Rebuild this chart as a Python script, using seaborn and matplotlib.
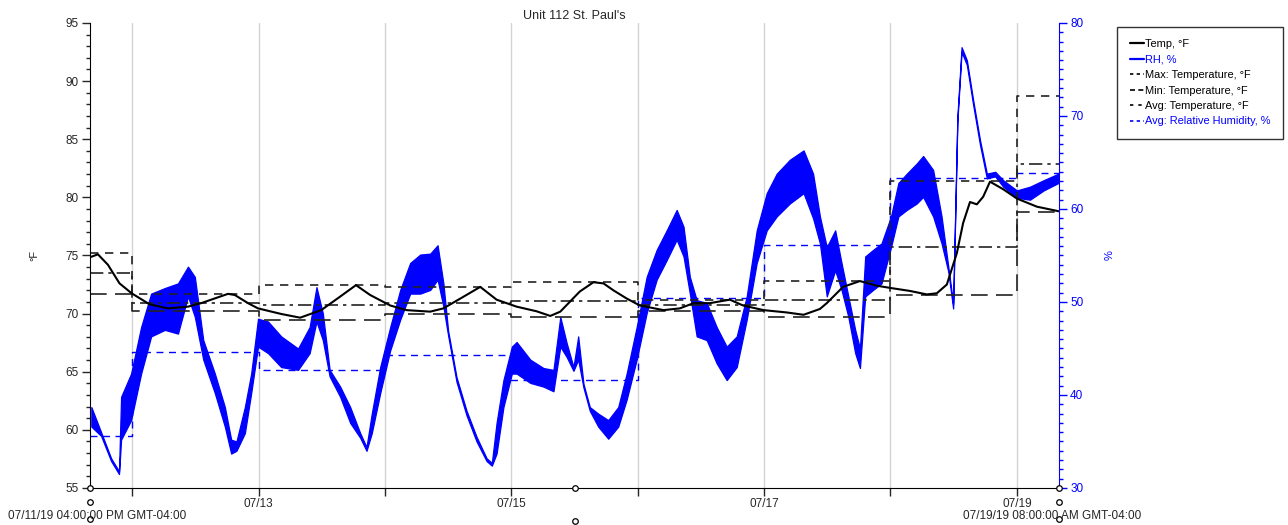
import numpy as np
import pandas as pd
import seaborn as sns
import matplotlib.pyplot as plt
import matplotlib.dates as mdates
import matplotlib.transforms as mtransforms
from matplotlib.lines import Line2D
from matplotlib.ticker import MultipleLocator, FuncFormatter

# logger start, readings as hours after start
start = pd.Timestamp("2019-07-11 16:00")

temp_hours = [0, 1.5, 3.4, 5.6, 7.9, 11.3, 14.8, 18.6, 21.1, 26.2, 27.5, 30, 31.9,
              36.3, 39.9, 43.9, 47.3, 50.5, 53.2, 57, 60.1, 64.6, 67.1, 70.9, 74.1,
              77.2, 81, 84.8, 87.4, 89.3, 93, 95.6, 97.5, 99.4, 101.9, 104.4, 108.9,
              112, 114.6, 117.7, 121.5, 124, 127.9, 132.3, 135.5, 138.6, 139.9, 143,
              146.2, 149.4, 152.1, 155.7, 158.9, 160.8, 162.7, 164.6, 165.8, 167.1,
              168.4, 169.6, 170.9, 173.4, 176, 179.8, 184]
temp_f = [74.85, 75.1, 74.2, 72.6, 71.75, 70.8, 70.45, 70.6, 70.9, 71.7, 71.6, 70.9, 70.45,
          69.97, 69.65, 70.3, 71.4, 72.45, 71.6, 70.7, 70.3, 70.17, 70.45, 71.45, 72.3,
          71.2, 70.6, 70.2, 69.8, 70.17, 71.9, 72.7, 72.6, 72.0, 71.3, 70.7, 70.3,
          70.45, 70.9, 70.9, 71.2, 70.7, 70.3, 70.1, 69.9, 70.4, 70.9, 72.3,
          72.8, 72.4, 72.2, 71.95, 71.65, 71.75, 72.5, 75.2, 77.8, 79.6,
          79.4, 80.05, 81.35, 80.7, 79.9, 79.2, 78.8]

# RH band: lower / upper envelope of the cycling trace
rh_hours = [0.25, 2.1, 4.0, 5.5, 5.9, 7.8, 9.7, 11.6, 14.2, 16.7, 18.6, 19.9, 21.5, 23.7,
            25.6, 26.8, 27.8, 29.4, 30.6, 31.9, 33.8, 36.3, 39.5, 41.7, 43.0, 44.2, 45.5,
            47.5, 49.4, 51.3, 52.5, 53.5, 55.1, 57.0, 58.9, 60.8, 62.7, 64.6, 66.0, 67.1,
            68.0, 69.6, 71.5, 73.4, 75.3, 76.3, 77.2, 78.5, 80.1, 81.0, 83.6, 86.1, 88.0,
            89.3, 90.5, 91.8, 92.7, 93.7, 94.9, 96.5, 98.4, 100.3, 101.9, 103.8, 105.7,
            107.6, 109.5, 111.4, 112.7, 113.9, 115.2, 117.1, 119.0, 120.9, 122.8, 124.7,
            126.6, 128.5, 130.4, 132.9, 135.5, 137.3, 138.6, 139.9, 141.5, 142.7, 144.0,
            145.3, 146.2, 147.2, 148.7, 150.3, 152.1, 153.5, 155.1, 157.0, 158.2, 160.1,
            161.7, 163.0, 163.9, 164.7, 165.5, 166.5, 167.7, 169.0, 170.3, 171.9, 173.4,
            176.0, 178.5, 181.1, 183.9]
rh_lo = [36.6, 35.6, 32.9, 31.5, 35.2, 37.3, 42.3, 46.3, 47.0, 46.6, 50.6, 48.4, 43.8, 40.2,
         36.6, 33.7, 34.0, 35.9, 40.2, 45.2, 44.5, 43.0, 42.7, 44.5, 47.9, 45.9, 42.0,
         39.8, 37.0, 35.4, 34.0, 35.9, 40.2, 44.8, 48.1, 50.9, 50.9, 51.3, 52.4, 49.5,
         46.4, 41.4, 37.8, 35.0, 32.9, 32.4, 33.7, 38.7, 42.3, 42.3, 41.3, 40.9, 40.4,
         45.2, 44.1, 42.6, 43.8, 40.8, 38.3, 36.6, 35.3, 36.6, 39.5, 43.8, 48.8,
         52.4, 54.5, 56.7, 54.9, 50.9, 46.3, 45.9, 43.4, 41.6, 43.0, 48.1,
         54.2, 57.7, 59.2, 60.6, 61.7, 59.0, 56.3, 50.6, 53.4, 51.3, 48.4,
         44.5, 42.9, 50.6, 51.3, 52.0, 55.9, 59.2, 59.9, 60.6, 61.3, 59.2,
         56.3, 53.2, 49.3, 69.4, 76.9, 75.5, 71.2, 66.9, 63.3, 63.5, 62.4,
         61.2, 61.0, 62.0, 62.8]
rh_hi = [38.7, 36.0, 33.2, 31.8, 39.8, 42.3, 47.3, 50.9, 51.5, 52.0, 53.8, 52.7, 45.9, 42.3,
         38.7, 35.2, 35.0, 38.7, 42.3, 48.2, 47.9, 46.3, 45.0, 47.3, 51.6, 48.8, 42.7,
         40.9, 38.7, 35.9, 34.4, 38.0, 43.0, 47.3, 51.3, 54.2, 55.1, 55.2, 56.1, 52.0,
         46.9, 41.9, 38.3, 35.5, 33.2, 32.7, 37.0, 41.6, 45.2, 45.7, 43.8, 42.9, 42.7,
         48.4, 45.6, 43.0, 46.3, 41.2, 38.7, 38.0, 37.3, 38.7, 42.3, 47.3, 52.7,
         55.6, 57.7, 59.9, 58.1, 52.7, 50.2, 49.9, 47.3, 45.2, 46.3, 50.6,
         57.7, 61.7, 63.8, 65.3, 66.3, 63.8, 59.2, 55.9, 57.7, 54.2, 50.6,
         47.0, 45.0, 54.9, 55.6, 56.3, 59.2, 62.8, 63.8, 64.9, 65.7, 64.2,
         59.2, 53.7, 49.8, 69.9, 77.4, 76.0, 71.7, 67.4, 63.8, 64.0, 63.1,
         62.0, 62.4, 63.1, 63.8]

# daily statistics (first and last day are partial)
day_hours = [0, 8, 32, 56, 80, 104, 128, 152, 176, 184]
max_temp = [75.2, 71.7, 72.5, 72.3, 72.7, 71.2, 72.8, 81.4, 88.7]
min_temp = [71.7, 70.2, 69.45, 70.0, 69.7, 70.2, 69.75, 71.6, 78.7]
avg_temp = [73.5, 70.9, 70.7, 70.9, 71.1, 70.7, 71.2, 75.7, 82.9]
avg_rh = [35.6, 44.6, 42.7, 44.3, 41.6, 50.4, 56.1, 63.3, 63.9]


def to_time(hours):
    return start + pd.to_timedelta(hours, unit="h")


t_temp = to_time(temp_hours)
t_rh = to_time(rh_hours)
t_day = to_time(day_hours)

sns.set_style("white")
plt.rcParams['font.family'] = ['Liberation Sans', 'DejaVu Sans']
plt.rcParams['font.size'] = 8

fig = plt.figure(figsize=(12.88, 5.25), dpi=100)
ax = fig.add_axes([0.0699, 0.0705, 0.7523, 0.8857])
ax2 = ax.twinx()
ax.set_zorder(ax2.get_zorder() + 1)
ax.patch.set_visible(False)

blue = '#0000ff'
maxd = (0, (5, 4))
mind = (0, (10, 5))
avgd = (0, (8, 3, 2, 3))

# midnight grid lines (behind everything)
for t in t_day[1:-1]:
    ax2.axvline(t, color='#d3d3d3', lw=1, zorder=0)

# RH
ax2.fill_between(t_rh, rh_lo, rh_hi, color=blue, lw=0.9, zorder=2)
sns.lineplot(x=t_day, y=avg_rh + avg_rh[-1:], ax=ax2, color=blue, lw=1,
             linestyle=maxd, drawstyle='steps-post', zorder=3)

# temperature
sns.lineplot(x=t_day, y=max_temp + max_temp[-1:], ax=ax, color='#222222', lw=1.2,
             linestyle=maxd, drawstyle='steps-post')
sns.lineplot(x=t_day, y=min_temp + min_temp[-1:], ax=ax, color='#222222', lw=1.2,
             linestyle=mind, drawstyle='steps-post')
sns.lineplot(x=t_day, y=avg_temp + avg_temp[-1:], ax=ax, color='#222222', lw=1.2,
             linestyle=avgd, drawstyle='steps-post')
sns.lineplot(x=t_temp, y=temp_f, ax=ax, color='black', lw=1.5)

# axes
ax.set_xlim(to_time(0), to_time(184))
ax.set_ylim(55, 95)
ax2.set_ylim(30, 80)
ax.yaxis.set_major_locator(MultipleLocator(5))
ax.yaxis.set_minor_locator(MultipleLocator(1))
ax2.yaxis.set_major_locator(MultipleLocator(10))
ax2.yaxis.set_minor_locator(MultipleLocator(1))

ax.xaxis.set_major_locator(mdates.DayLocator())
ax.xaxis.set_major_formatter(FuncFormatter(
    lambda v, p: mdates.num2date(v).strftime('%m/%d') if mdates.num2date(v).day % 2 else ''))

ax.tick_params(axis='y', which='major', direction='out', length=6, width=1, left=True, labelsize=8.5, pad=2)
ax.tick_params(axis='y', which='minor', direction='out', length=3, width=1, left=True)
ax.tick_params(axis='x', which='major', direction='out', length=6, width=1, bottom=True, labelsize=8.5, pad=1)
ax2.tick_params(axis='y', which='major', direction='out', length=6, width=1, right=True,
                colors=blue, labelsize=8.5, pad=2)
ax2.tick_params(axis='y', which='minor', direction='out', length=3, width=1, right=True, colors=blue)

for a in (ax, ax2):
    a.spines['top'].set_visible(False)
ax.spines['right'].set_visible(False)
ax2.spines['left'].set_visible(False)
ax2.spines['bottom'].set_visible(False)
ax2.spines['right'].set_color(blue)
ax.spines['left'].set_color('black')
ax.spines['bottom'].set_color('black')

ax.set_xlabel('')
ax.set_ylabel('°F', fontsize=8)
ax.yaxis.set_label_coords(-0.052, 0.5)
ax2.set_ylabel('%', fontsize=8, color=blue)
ax2.yaxis.set_label_coords(1.047, 0.5)
ax.set_title("Unit 112 St. Paul's", fontsize=9, pad=3)

# start / end stamps and logger markers
fig.text(0.006, 1 - 516 / 525, '07/11/19 04:00:00 PM GMT-04:00', fontsize=8.5, va='center', ha='left')
fig.text(1141 / 1288, 1 - 516 / 525, '07/19/19 08:00:00 AM GMT-04:00', fontsize=8.5, va='center', ha='right')
trans = mtransforms.blended_transform_factory(ax.transData, ax.transAxes)
for h, ys in [(0, [0, -0.031, -0.066]), (92, [0, -0.071]), (184, [0, -0.031, -0.066])]:
    ax.plot([to_time(h)] * len(ys), ys, 'o', ms=4, mfc='white', mec='black', mew=0.9,
            transform=trans, clip_on=False, zorder=10)

# legend
handles = [
    Line2D([], [], color='black', lw=1.6),
    Line2D([], [], color=blue, lw=1.6),
    Line2D([], [], color='black', lw=1.2, linestyle=(0, (2, 2))),
    Line2D([], [], color='black', lw=1.2, linestyle=(0, (3, 2))),
    Line2D([], [], color='black', lw=1.2, linestyle=(0, (2, 3))),
    Line2D([], [], color=blue, lw=1.2, linestyle=(0, (2, 2))),
]
labels = ['Temp, °F', 'RH, %', 'Max: Temperature, °F', 'Min: Temperature, °F',
          'Avg: Temperature, °F', 'Avg: Relative Humidity, %']
leg = fig.legend(handles, labels, loc='upper right', bbox_to_anchor=(1283 / 1288, 1 - 27 / 525),
                 fontsize=7.9, frameon=True, fancybox=False, edgecolor='black',
                 handlelength=1.3, handletextpad=0.15, labelspacing=0.5,
                 borderpad=1.1, borderaxespad=0)
leg.get_frame().set_linewidth(1)
for txt, c in zip(leg.get_texts(), ['black', blue, 'black', 'black', 'black', blue]):
    txt.set_color(c)

fig.savefig('out.png', dpi=100)
